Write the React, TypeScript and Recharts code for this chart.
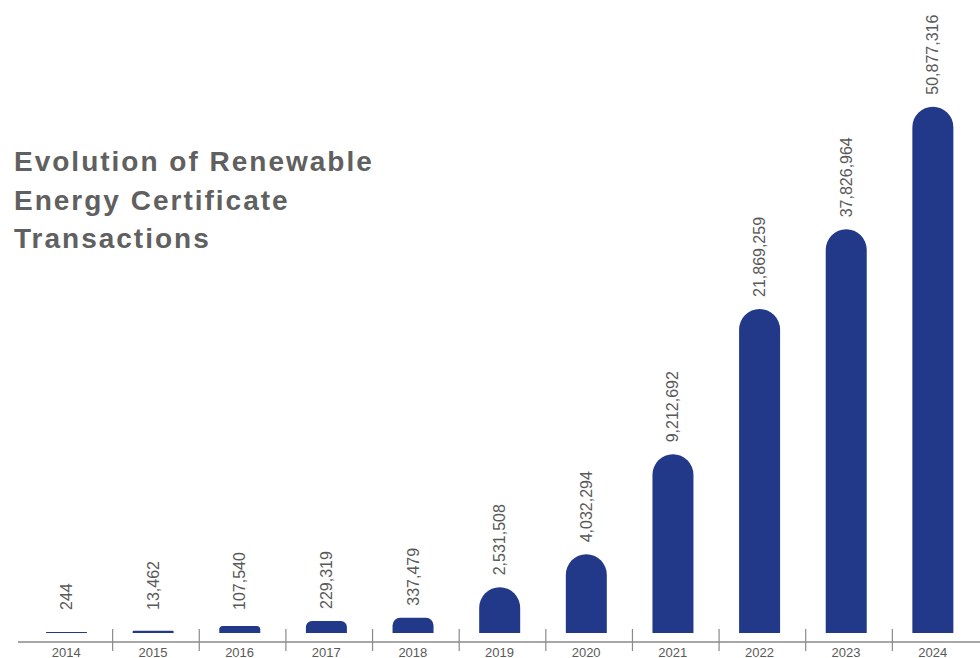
import { BarChart, Bar, XAxis, YAxis, LabelList } from 'recharts'

const years = ['2014', '2015', '2016', '2017', '2018', '2019', '2020', '2021', '2022', '2023', '2024']
const transactions = [244, 13462, 107540, 229319, 337479, 2531508, 4032294, 9212692, 21869259, 37826964, 50877316]
// the original graphic is not drawn to scale, so bar heights are read off the picture separately
const barLevels = [1, 2.3, 7, 12, 15.3, 45.7, 78.7, 178.7, 324, 403.7, 526.3]

const BAR = '#22398A'
const TEXT = '#595959'
const FONT = '"Liberation Sans", Arial, sans-serif'

const W = 980
const H = 658
const M_LEFT = 18
const PAD_LEFT = 5
const PAD_RIGHT = 4
const BAND = (W - M_LEFT - PAD_LEFT - PAD_RIGHT) / years.length

const data = years.map((year, i) => ({
  year,
  level: barLevels[i],
  value: transactions[i],
}))

function YearTick(props: any) {
  const { x, y, payload, index } = props
  return (
    <g>
      {index > 0 && (
        <line x1={x - BAND / 2 + 3} x2={x - BAND / 2 + 3} y1={y - 13} y2={y + 9} stroke="#8a8a8a" strokeWidth={1.2} />
      )}
      <text x={x} y={y + 14.5} textAnchor="middle" fontSize={13} fontFamily={FONT} fill={TEXT}>
        {payload.value}
      </text>
    </g>
  )
}

function ValueLabel(props: any) {
  const { x, y, width, index } = props
  const cx = x + width / 2
  const by = Math.min(y - 12, 610)
  return (
    <text
      x={cx}
      y={by}
      transform={`rotate(-90 ${cx} ${by})`}
      textAnchor="start"
      dominantBaseline="central"
      fontSize={16}
      fontFamily={FONT}
      fill={TEXT}
    >
      {transactions[index].toLocaleString('en-US')}
    </text>
  )
}

export default function App() {
  return (
    <div style={{ position: 'absolute', left: 0, top: 0, width: W, height: H, background: '#fff' }}>
      <BarChart width={W} height={H} data={data} margin={{ top: 0, right: 0, bottom: 0, left: M_LEFT }}>
        <XAxis
          dataKey="year"
          height={16}
          tickSize={0}
          tickMargin={0}
          tickLine={false}
          axisLine={{ stroke: '#8a8a8a', strokeWidth: 1.4 }}
          padding={{ left: PAD_LEFT, right: PAD_RIGHT }}
          interval={0}
          tick={<YearTick />}
        />
        <YAxis hide domain={[-9, 633]} />
        <Bar dataKey="level" fill={BAR} barSize={41} radius={[20.5, 20.5, 0, 0]} isAnimationActive={false}>
          <LabelList dataKey="value" content={<ValueLabel />} />
        </Bar>
      </BarChart>
      <div
        style={{
          position: 'absolute',
          left: 14,
          top: 143.4,
          fontFamily: FONT,
          fontWeight: 'bold',
          fontSize: 28,
          lineHeight: '38.35px',
          letterSpacing: 2,
          color: '#606060',
        }}
      >
        Evolution of Renewable
        <br />
        Energy Certificate
        <br />
        Transactions
      </div>
    </div>
  )
}
